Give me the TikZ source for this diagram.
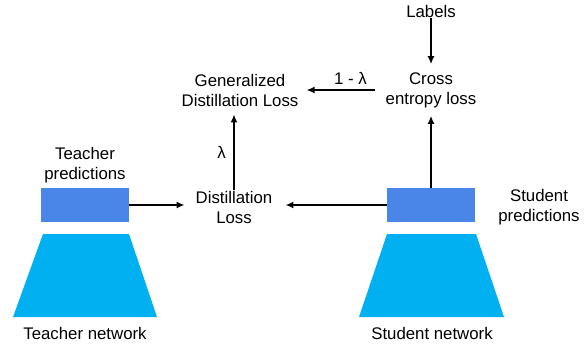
\documentclass[tikz,border=0pt]{standalone}
\usepackage{fontspec}
\setmainfont{Liberation Sans}
\usetikzlibrary{arrows,arrows.meta,positioning}
\definecolor{predblue}{RGB}{74,134,232}
\definecolor{netcyan}{RGB}{0,176,240}

\begin{document}
\begin{tikzpicture}[x=1pt,y=-1pt,>={Latex[length=8pt,width=7pt]},font=\fontsize{16.8}{20}\selectfont]
\tikzset{lbl/.style={align=center,inner sep=1pt}}
\tikzset{pred/.style={fill=predblue,minimum width=88pt,minimum height=34pt,inner sep=0pt}}
\tikzset{flow/.style={->,line width=1.9pt,shorten >=7pt}}
\useasboundingbox (0,0) rectangle (587,345);
% networks
\fill[netcyan] (43,234) -- (129,234) -- (157,317) -- (13,317) -- cycle;
\fill[netcyan] (387,234) -- (476,234) -- (504,317) -- (359,317) -- cycle;
\node[lbl] (TN) at (85,333) {Teacher network};
\node[lbl] (SN) at (432,333) {Student network};
% predictions
\node[pred] (TP) at (85,205) {};
\node[pred] (SP) at (431,205) {};
\node[lbl] (TPL) at (85,165) {Teacher\\predictions};
\node[lbl] (SPL) at (539,207) {Student\\predictions};
% losses
\node[lbl] (DL) at (234,207) {Distillation\\Loss};
\node[lbl] (GDL) at (240,90) {Generalized\\Distillation Loss};
\node[lbl] (CE) at (431,90) {Cross\\entropy loss};
\node[lbl] (LB) at (431,11) {Labels};
% connectors
\draw[flow,shorten >=10pt] (TP.east) -- (DL.west |- TP.east);
\draw[flow,shorten >=12pt] (SP.west) -- (DL.east |- SP.west);
\draw[flow] (SP.north) -- (CE.south);
\draw[flow] (LB.south) -- (CE.north);
\draw[flow] (DL.north) -- node[left=4pt,pos=0.45] {λ} (DL.north |- GDL.south);
\draw[flow,shorten <=10pt] (CE.west) -- node[above=1pt,pos=0.4] {1 - λ} (GDL.east);
\end{tikzpicture}
\end{document}
